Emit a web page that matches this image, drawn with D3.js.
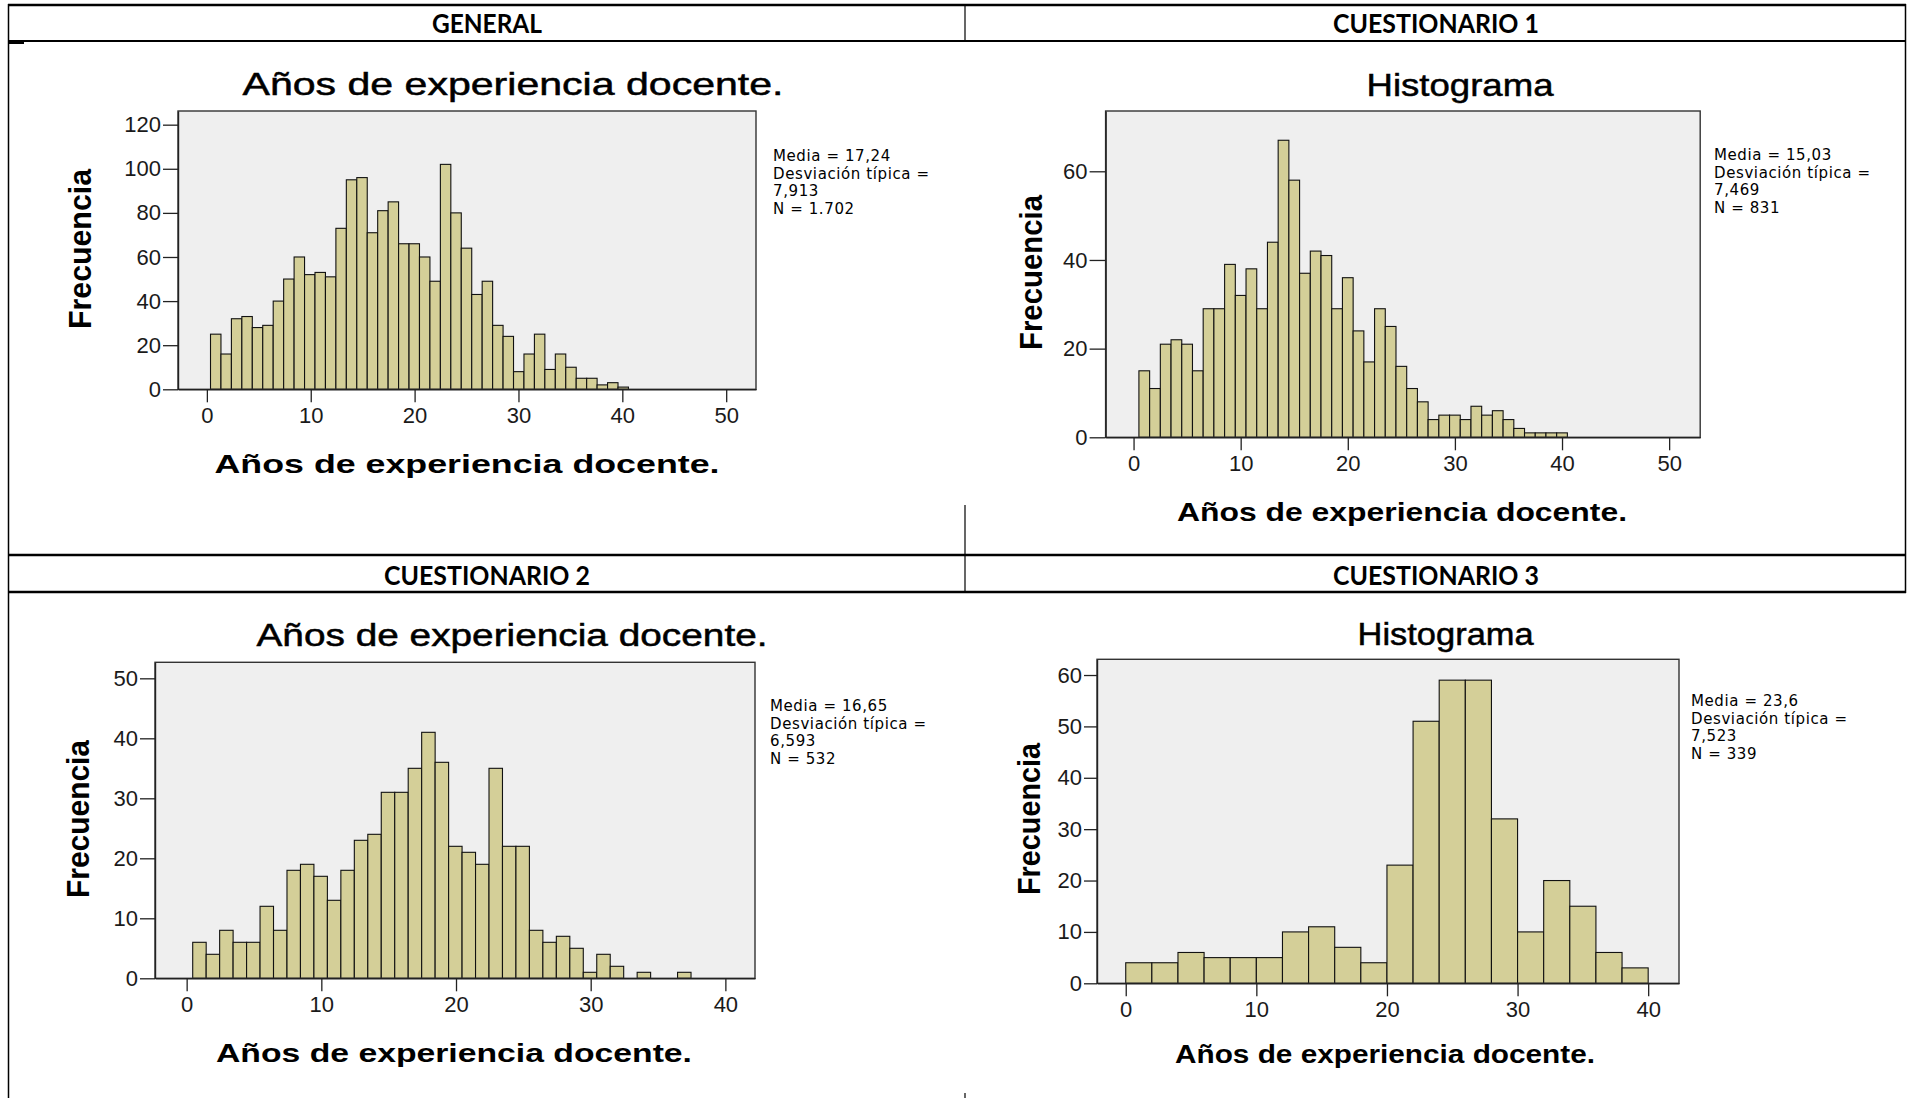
<!DOCTYPE html>
<html><head><meta charset="utf-8">
<script src="https://cdn.jsdelivr.net/npm/d3@7"></script>
<style>body{margin:0;background:#fff} svg{display:block}</style>
</head><body>
<script>
// ---------------- DATA ----------------
const panelHeaders = ["GENERAL", "CUESTIONARIO 1", "CUESTIONARIO 2", "CUESTIONARIO 3"];
const chartTitles = ["Años de experiencia docente.", "Histograma", "Años de experiencia docente.", "Histograma"];
const xAxisTitle = "Años de experiencia docente.";
const yAxisTitle = "Frecuencia";

const freqGeneral = [25,16,32,33,28,29,40,50,60,52,53,51,73,95,96,71,81,85,66,66,60,49,102,80,64,43,49,29,24,8,16,25,9,16,10,5,5,2,3,1];
const freqC1 = [15,11,21,22,21,15,29,29,39,32,38,29,44,67,58,37,42,41,29,36,24,17,29,25,16,11,8,4,5,5,4,7,5,6,4,2,1,1,1,1];
const freqC2 = [6,4,8,6,6,12,8,18,19,17,13,18,23,24,31,31,35,41,36,22,21,19,35,22,22,8,6,7,5,1,4,2,0,1,0,0,1];
const freqC3 = [4,4,6,5,5,5,10,11,7,4,23,51,59,59,32,10,20,15,6,3];

const binStarts = [0.35, 0.5, 0.45, 0];
const binWidths = [1.006, 1.0, 1.0, 2];

const xTicksA = [0,10,20,30,40,50];
const xTicksB = [0,10,20,30,40];
const yTicksGeneral = [0,20,40,60,80,100,120];
const yTicksC1 = [0,20,40,60];
const yTicksC2 = [0,10,20,30,40,50];
const yTicksC3 = [0,10,20,30,40,50,60];

const statsGeneral = ["Media = 17,24", "Desviación típica =", "7,913", "N = 1.702"];
const statsC1 = ["Media = 15,03", "Desviación típica =", "7,469", "N = 831"];
const statsC2 = ["Media = 16,65", "Desviación típica =", "6,593", "N = 532"];
const statsC3 = ["Media = 23,6", "Desviación típica =", "7,523", "N = 339"];

const xDomains = [[-2.78, 52.87], [-2.61, 52.9], [-2.35, 42.2], [-2.2, 42.36]];
const yDomains = [[0, 126.2], [0, 73.6], [0, 52.67], [0, 63.06]];

// ---------------- LAYOUT ----------------
const W = 1908, H = 1098;
const layout = [
  {frame:[178,111,756,389.3], title:{x:513,y:95,w:541,fs:32}, xt:{x:467,y:473,w:505,fs:26}, yt:{x:91,y:249,w:160,fs:32}, stats:{x:773,y:161}, ytick:15},
  {frame:[1105.6,111,1700.2,437.3], title:{x:1460,y:96,w:187,fs:32}, xt:{x:1402,y:521,w:450,fs:25}, yt:{x:1042,y:272.5,w:155,fs:32}, stats:{x:1714,y:160}, ytick:16},
  {frame:[155,662.3,755,978.3], title:{x:512,y:646,w:511,fs:31}, xt:{x:454,y:1062,w:476,fs:26}, yt:{x:89,y:819,w:158,fs:32}, stats:{x:770,y:711}, ytick:15},
  {frame:[1097,659.3,1679,983.3], title:{x:1445.6,y:645,w:176,fs:31}, xt:{x:1385,y:1063,w:420,fs:25}, yt:{x:1040,y:819,w:152,fs:32}, stats:{x:1691,y:706}, ytick:13}
];
const statLineGap = 17.5;

const panels = [
  {freq:freqGeneral, xTicks:xTicksA, yTicks:yTicksGeneral, stats:statsGeneral},
  {freq:freqC1, xTicks:xTicksA, yTicks:yTicksC1, stats:statsC1},
  {freq:freqC2, xTicks:xTicksB, yTicks:yTicksC2, stats:statsC2},
  {freq:freqC3, xTicks:xTicksB, yTicks:yTicksC3, stats:statsC3}
];

const svg = d3.select("body").append("svg").attr("width", W).attr("height", H);
svg.append("rect").attr("width", W).attr("height", H).attr("fill", "#fff");

// ---------------- TABLE ----------------
const tbl = svg.append("g").attr("stroke", "#000");
function line(x1,y1,x2,y2,w){ tbl.append("line").attr("x1",x1).attr("y1",y1).attr("x2",x2).attr("y2",y2).attr("stroke-width",w); }
line(8,5,1906,5,2.5);
line(8,41,1906,41,2);
line(9,43,24,43,2);
line(8,555,1906,555,2.5);
line(8,592,1906,592,2.5);
line(8.5,4,8.5,1098,1.5);
line(1905.5,4,1905.5,593,1.5);
line(965,5,965,41,1.2);
line(965,505,965,555,1.2);
line(965,555,965,592,1.2);
line(965,1093,965,1098,1.2);

const headerPos = [[487,33],[1436,33],[487,584.5],[1436,584.5]];
const headerW = [110,206,206,206];
panelHeaders.forEach((t,i)=>{
  svg.append("text").attr("x",headerPos[i][0]).attr("y",headerPos[i][1])
    .attr("text-anchor","middle").attr("font-family","Lato, 'Open Sans', sans-serif")
    .attr("font-weight","bold").attr("font-size",26)
    .attr("textLength",headerW[i]).attr("lengthAdjust","spacingAndGlyphs")
    .attr("fill","#000").text(t);
});

// ---------------- CHARTS ----------------
const FONT = "'Liberation Sans', Arial, sans-serif";
panels.forEach((p,i)=>{
  const L = layout[i];
  const [x0,y0,x1,y1] = L.frame;
  const x = d3.scaleLinear().domain(xDomains[i]).range([x0,x1]);
  const y = d3.scaleLinear().domain(yDomains[i]).range([y1,y0]);
  const g = svg.append("g");

  g.append("rect").attr("x",x0).attr("y",y0).attr("width",x1-x0).attr("height",y1-y0)
    .attr("fill","#efefef");

  const bins = p.freq.map((v,k)=>({v, a:binStarts[i]+k*binWidths[i], b:binStarts[i]+(k+1)*binWidths[i]})).filter(d=>d.v>0);
  g.selectAll("rect.bar").data(bins).enter().append("rect").attr("class","bar")
    .attr("x",d=>x(d.a)).attr("width",d=>x(d.b)-x(d.a))
    .attr("y",d=>y(d.v)).attr("height",d=>y(0)-y(d.v))
    .attr("fill","#d4cf98").attr("stroke","#111").attr("stroke-width",1.1);

  g.append("rect").attr("x",x0).attr("y",y0).attr("width",x1-x0).attr("height",y1-y0)
    .attr("fill","none").attr("stroke","#333").attr("stroke-width",1.4);

  const xa = g.append("g").attr("transform",`translate(0,${y1})`)
    .call(d3.axisBottom(x).tickValues(p.xTicks).tickSize(13).tickPadding(5).tickSizeOuter(0));
  const ya = g.append("g").attr("transform",`translate(${x0},0)`)
    .call(d3.axisLeft(y).tickValues(p.yTicks).tickSize(L.ytick).tickPadding(2).tickSizeOuter(0));
  [xa,ya].forEach(a=>{
    a.select(".domain").attr("stroke","#222").attr("stroke-width",1.4);
    a.selectAll(".tick line").attr("stroke","#222").attr("stroke-width",1.3);
    a.selectAll(".tick text").attr("font-family",FONT).attr("font-size",22).attr("fill","#1a1a1a");
  });

  // Chart title
  svg.append("text").attr("x",L.title.x).attr("y",L.title.y).attr("text-anchor","middle")
    .attr("font-family",FONT).attr("font-size",L.title.fs).attr("fill","#000")
    .attr("stroke","#000").attr("stroke-width",0.5)
    .attr("textLength",L.title.w).attr("lengthAdjust","spacingAndGlyphs").text(chartTitles[i]);
  // X title
  svg.append("text").attr("x",L.xt.x).attr("y",L.xt.y).attr("text-anchor","middle")
    .attr("font-family",FONT).attr("font-weight","bold").attr("font-size",L.xt.fs).attr("fill","#000")
    .attr("textLength",L.xt.w).attr("lengthAdjust","spacingAndGlyphs").text(xAxisTitle);
  // Y title
  svg.append("text").attr("transform",`translate(${L.yt.x},${L.yt.y}) rotate(-90)`)
    .attr("text-anchor","middle")
    .attr("font-family",FONT).attr("font-weight","bold").attr("font-size",L.yt.fs).attr("fill","#000")
    .attr("textLength",L.yt.w).attr("lengthAdjust","spacingAndGlyphs").text(yAxisTitle);
  // Stats
  p.stats.forEach((s,k)=>{
    svg.append("text").attr("x",L.stats.x).attr("y",L.stats.y + k*statLineGap)
      .attr("font-family","'DejaVu Sans', Verdana, sans-serif").attr("font-size",15)
      .attr("letter-spacing",0.6).attr("fill","#000").text(s);
  });
});
</script>
</body></html>
